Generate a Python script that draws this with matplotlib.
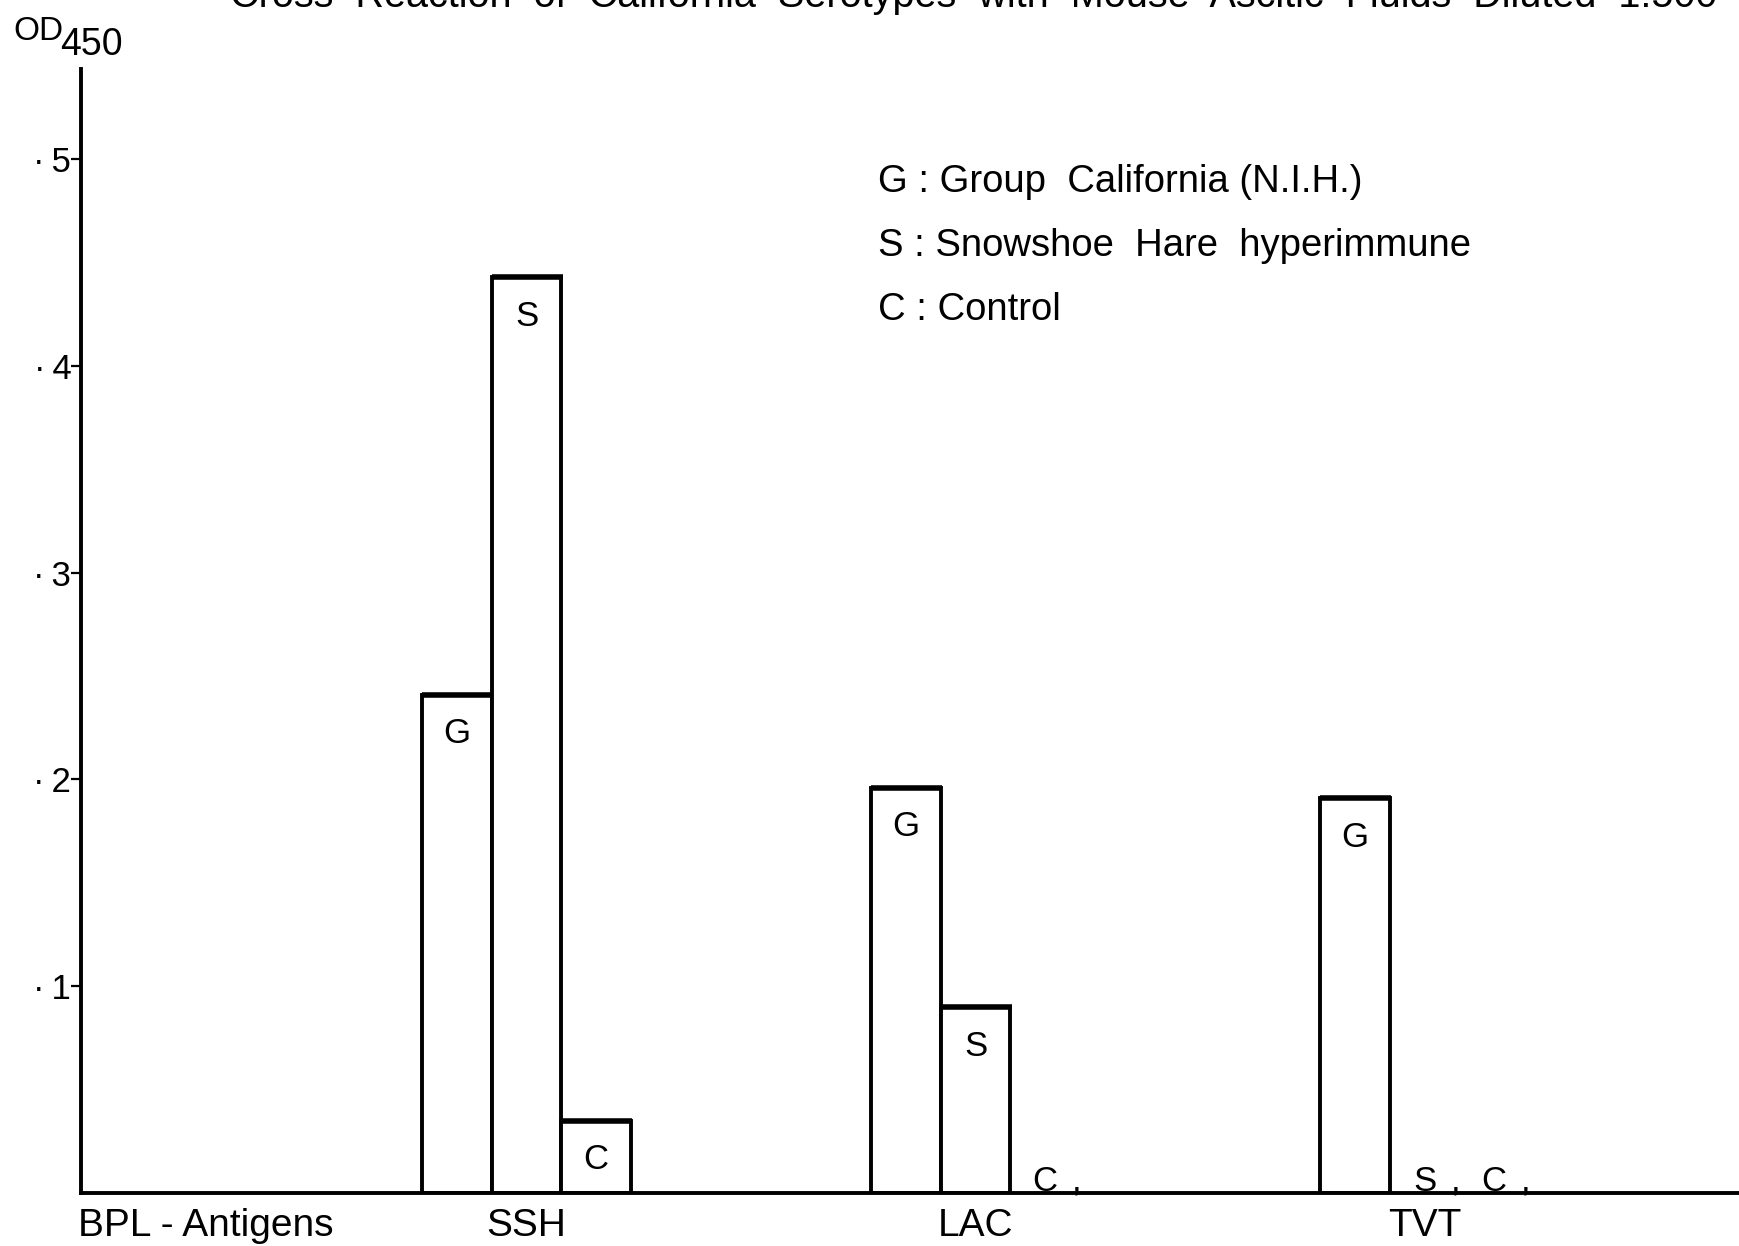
import matplotlib
matplotlib.use("Agg")
import matplotlib.pyplot as plt

plt.rcParams['font.family'] = ['Liberation Sans', 'DejaVu Sans']

# --- datos (OD450) ---
antigens = ['SSH', 'LAC', 'TVT']
series = ['G', 'S', 'C']
g_vals = [0.241, 0.196, 0.191]
s_vals = [0.443, 0.090, 0.0]
c_vals = [0.035, 0.0, 0.0]
yticks = [0.1, 0.2, 0.3, 0.4, 0.5]
ytick_labels = ['\u00b7\u20091', '\u00b7\u20092', '\u00b7\u20093',
                '\u00b7\u20094', '\u00b7\u20095']
legend_lines = ['G : Group  California (N.I.H.)',
                'S : Snowshoe  Hare  hyperimmune',
                'C : Control']
title = ('Cross  Reaction  of  California  Serotypes  with  '
         'Mouse  Ascitic  Fluids  Diluted  1:500')

W, H = 1740, 1246
fig = plt.figure(figsize=(W / 100, H / 100), dpi=100)
fig.patch.set_facecolor('white')

x0_px, base_px, top_px = 81, 1193, 69
bar_px = 69.4
ax = fig.add_axes([x0_px / W, 1 - base_px / H, 1 - x0_px / W,
                   (base_px - top_px) / H])
ax.set_xlim(0, (W - x0_px) / bar_px)
ax.set_ylim(0, 0.5435)

first_center, spacing = 6.42, 6.47
centers = [first_center + i * spacing for i in range(len(antigens))]
vals = [g_vals, s_vals, c_vals]

for k, (name, sv) in enumerate(zip(series, vals)):
    for i, v in enumerate(sv):
        xc = centers[i] + (k - 1)
        if v > 0:
            ax.bar(xc, v, width=1.0, facecolor='white', edgecolor='black',
                   linewidth=2.8, zorder=2)
            ax.hlines(v, xc - 0.5, xc + 0.52, color='black', linewidth=4.0,
                      zorder=3)
            ax.text(xc, v - 0.011, name, ha='center', va='top', fontsize=25,
                    zorder=4)
        else:
            # valores ~0: solo la letra sobre la linea base, con coma
            ax.text(xc, 0.001, name, ha='center', va='baseline', fontsize=25,
                    zorder=4)
            ax.text(xc + 0.45, 0.001, ',', ha='center', va='baseline',
                    fontsize=25, zorder=4)

for sp in ['top', 'right']:
    ax.spines[sp].set_visible(False)
for sp in ['left', 'bottom']:
    ax.spines[sp].set_linewidth(2.8)
    ax.spines[sp].set_zorder(5)

ax.set_yticks(yticks, ytick_labels)
ax.tick_params(axis='y', direction='out', length=7, width=1.6, pad=0,
               labelsize=25)
ax.set_xticks(centers, antigens)
ax.tick_params(axis='x', length=0, pad=11, labelsize=28)
ax.text(-0.05, -0.0072, 'BPL - Antigens', ha='left', va='top', fontsize=28,
        transform=ax.transData, clip_on=False)

# leyenda como texto
for j, line in enumerate(legend_lines):
    fig.text(878 / W, 1 - (192 + j * 64) / H, line, ha='left',
             va='baseline', fontsize=27.5)

fig.text(13 / W, 1 - 40 / H, 'OD', ha='left', va='baseline', fontsize=24)
fig.text(60 / W, 1 - 55 / H, '450', ha='left', va='baseline', fontsize=27)
# titulo cortado por el borde superior, como en el escaneo
fig.text(230 / W, 1 - 7 / H, title, ha='left', va='baseline', fontsize=28.5)

fig.savefig('out.png', dpi=100, facecolor='white')
